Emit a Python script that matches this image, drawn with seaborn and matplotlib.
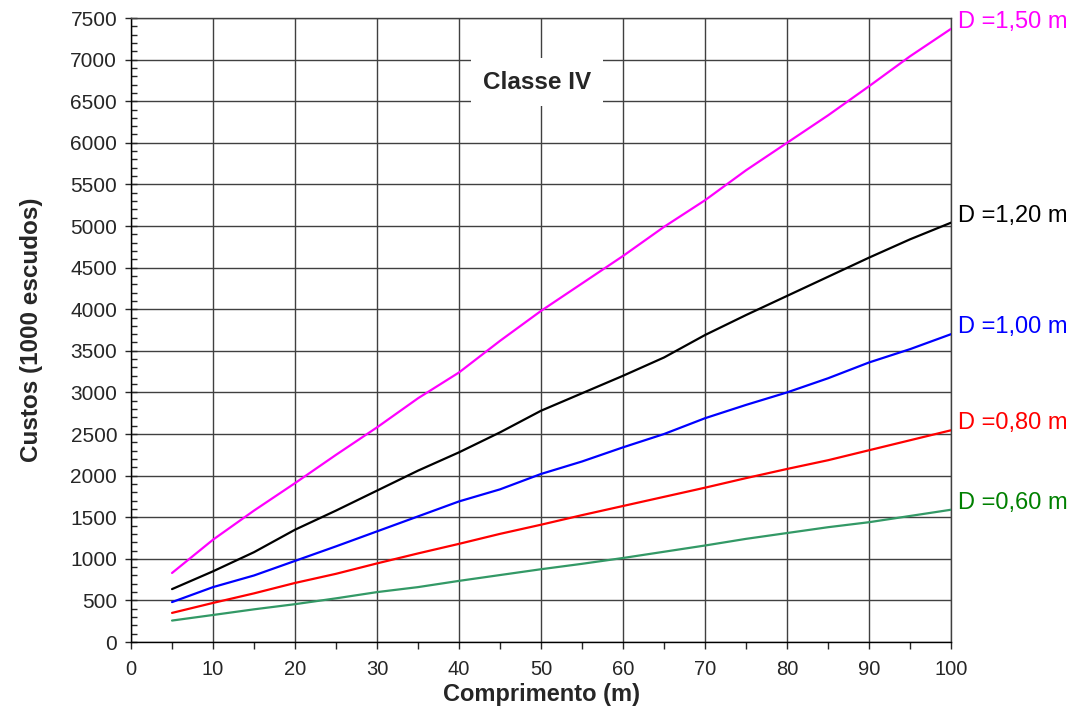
import pandas as pd
import matplotlib.pyplot as plt
import seaborn as sns
from matplotlib.ticker import MultipleLocator

# Comprimento (m) e custos (1000 escudos)
comprimento = [5, 10, 15, 20, 25, 30, 35, 40, 45, 50,
               55, 60, 65, 70, 75, 80, 85, 90, 95, 100]

custo_150 = [830, 1230, 1580, 1910, 2250, 2580, 2930, 3240, 3620, 3980,
             4310, 4640, 4990, 5310, 5670, 6000, 6330, 6680, 7040, 7370]
custo_120 = [636, 850, 1080, 1350, 1580, 1820, 2060, 2280, 2520, 2780,
             2990, 3200, 3420, 3690, 3930, 4160, 4390, 4620, 4840, 5040]
custo_100 = [480, 660, 800, 975, 1150, 1330, 1510, 1690, 1835, 2020,
             2170, 2340, 2500, 2690, 2850, 3000, 3170, 3360, 3520, 3700]
custo_080 = [350, 470, 585, 710, 820, 945, 1065, 1180, 1300, 1410,
             1525, 1635, 1745, 1855, 1970, 2080, 2185, 2305, 2425, 2545]
custo_060 = [258, 325, 393, 455, 525, 600, 660, 735, 805, 875,
             940, 1010, 1085, 1160, 1240, 1310, 1380, 1440, 1515, 1590]

diametros = ['D =1,50 m', 'D =1,20 m', 'D =1,00 m', 'D =0,80 m', 'D =0,60 m']
series = [custo_150, custo_120, custo_100, custo_080, custo_060]
cores_linha = ['#FF00FF', '#000000', '#0000FF', '#FF0000', '#339966']
cores_texto = ['#FF00FF', '#000000', '#0000FF', '#FF0000', '#008000']

# Tabela longa para o seaborn
df = pd.concat([pd.DataFrame({'Comprimento': comprimento, 'Custo': s, 'D': d})
                for d, s in zip(diametros, series)], ignore_index=True)

sns.set_style('white')
plt.rcParams['font.family'] = ['Liberation Sans', 'DejaVu Sans']

fig = plt.figure(figsize=(10.75, 7.2), dpi=100)
ax = fig.add_axes([0.1219, 0.1083, 0.7628, 0.8667])

sns.lineplot(data=df, x='Comprimento', y='Custo', hue='D',
             palette=dict(zip(diametros, cores_linha)), linewidth=1.6,
             legend=False, ax=ax, zorder=3)

ax.set_xlim(0, 100)
ax.set_ylim(0, 7500)
ax.xaxis.set_major_locator(MultipleLocator(10))
ax.xaxis.set_minor_locator(MultipleLocator(5))
ax.yaxis.set_major_locator(MultipleLocator(500))
ax.yaxis.set_minor_locator(MultipleLocator(100))

ax.grid(True, which='major', color='#404040', linewidth=1.0)
ax.tick_params(axis='y', which='major', direction='inout', length=8, width=1,
               labelsize=15, pad=6, left=True)
ax.tick_params(axis='y', which='minor', direction='in', length=4, width=1, left=True)
ax.tick_params(axis='x', which='both', direction='out', length=5, width=1,
               labelsize=14.5, pad=8, bottom=True)

for lado, sp in ax.spines.items():
    sp.set_visible(True)
    sp.set_color('#000000' if lado in ('left', 'bottom') else '#404040')
    sp.set_linewidth(1.0)

ax.set_xlabel('Comprimento (m)', fontsize=17, fontweight='bold', labelpad=3)
ax.set_ylabel('Custos (1000 escudos)', fontsize=17.5, fontweight='bold', labelpad=20)

# Rótulos no fim de cada curva
for d, s, c in zip(diametros, series, cores_texto):
    ax.annotate(d, xy=(comprimento[-1], s[-1]), xytext=(5, 5),
                textcoords='offset points', color=c, fontsize=17,
                va='center', ha='left', annotation_clip=False)

ax.text(49.5, 6730, 'Classe IV', fontsize=17.5, fontweight='bold', ha='center',
        va='center', zorder=4,
        bbox=dict(boxstyle='square,pad=0.5', facecolor='white', edgecolor='none'))

fig.savefig('out.png', dpi=100)
